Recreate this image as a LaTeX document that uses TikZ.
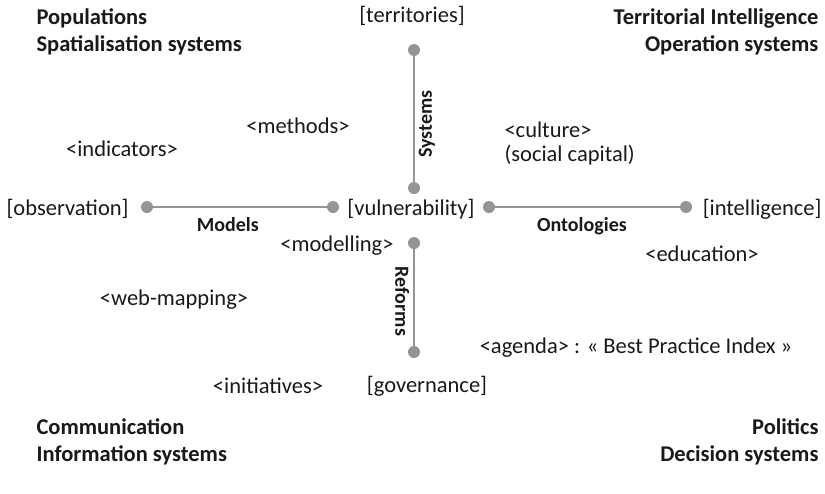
\documentclass[tikz,border=0pt]{standalone}
\usepackage{fontspec}
\setmainfont{Carlito}
\usetikzlibrary{positioning}

\begin{document}
\begin{tikzpicture}[x=1pt, y=-1pt, every node/.style={font=\fontsize{22.5}{24}\selectfont, text=black!90},
  dot/.style={circle, fill=black!42, inner sep=0pt, minimum size=12pt},
  axis/.style={draw=black!42, line width=2.8pt},
  title/.style={font=\fontsize{22.5}{27}\selectfont\bfseries, align=left},
  lbl/.style={font=\fontsize{20}{20}\selectfont\bfseries}]
  \useasboundingbox (0,0) rectangle (825,493);
  % dots
  \node[dot] (systop) at (414,50) {};
  \node[dot] (sysbot) at (414,188) {};
  \node[dot] (refstop) at (414,243) {};
  \node[dot] (refsbot) at (414,352) {};
  \node[dot] (modl) at (147,207) {};
  \node[dot] (modr) at (333,207) {};
  \node[dot] (ontl) at (489,207) {};
  \node[dot] (ontr) at (686,207) {};
  % axes
  \draw[axis] (systop) -- (sysbot) node[midway, lbl, rotate=90, below=5pt] {Systems};
  \draw[axis] (refstop) -- (refsbot) node[midway, lbl, rotate=-90, below=4pt] {Reforms};
  \draw[axis] (modl) -- (modr) node[pos=0.43, lbl, below=6pt] {Models};
  \draw[axis] (ontl) -- (ontr) node[pos=0.47, lbl, below=6pt] {Ontologies};
  % poles
  \node (terr) at (412,16) {[territories]};
  \node (vuln) at (411,209) {[vulnerability]};
  \node[anchor=west] (obs) at (3,209) {[observation]};
  \node[anchor=east] (intel) at (825,209) {[intelligence]};
  \node (gov) at (427,386) {[governance]};
  % tools
  \node (meth) at (298,126) {<methods>};
  \node (ind) at (122,149) {<indicators>};
  \node[align=left, anchor=west] (cult) at (501,143) {<culture>\\(social capital)};
  \node (modg) at (337,246) {<modelling>};
  \node (edu) at (702,254) {<education>};
  \node (web) at (174,300) {<web-mapping>};
  \node (agen) at (636,348) {<agenda> : « Best Practice Index »};
  \node (init) at (268,386) {<initiatives>};
  % corners
  \node[title, anchor=west] (popu) at (33,31.5) {Populations\\Spatialisation systems};
  \node[title, anchor=east, align=right] (ti) at (822,31.5) {Territorial Intelligence\\Operation systems};
  \node[title, anchor=west] (comm) at (33,441.5) {Communication\\Information systems};
  \node[title, anchor=east, align=right] (poli) at (822,441.5) {Politics\\Decision systems};
\end{tikzpicture}
\end{document}
